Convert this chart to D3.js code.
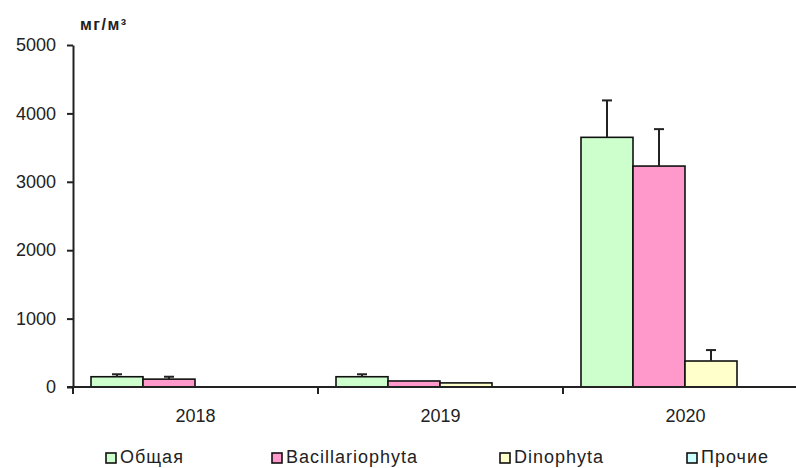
<!DOCTYPE html>
<html>
<head>
<meta charset="utf-8">
<script src="https://cdn.jsdelivr.net/npm/d3@7"></script>
<style>
  body { margin: 0; background: #fff; }
  svg { display: block; font-family: "Liberation Sans", Arial, sans-serif; }
</style>
</head>
<body>
<svg id="chart" width="796" height="468"></svg>
<script>
const years = ["2018", "2019", "2020"];
const seriesNames = ["Общая", "Bacillariophyta", "Dinophyta", "Прочие"];
const seriesColors = ["#ccffcc", "#ff99cc", "#ffffcc", "#ccffff"];

// mean values, mg/m3
const totalVals = [150, 150, 3650];
const bacilVals = [115, 88, 3230];
const dinoVals = [0, 60, 380];
const otherVals = [0, 0, 0];

// upper error (absolute top of error bar), 0 = none
const totalErr = [186, 186, 4190];
const bacilErr = [150, 0, 3770];
const dinoErr = [0, 0, 540];
const otherErr = [0, 0, 0];

const yTicks = [0, 1000, 2000, 3000, 4000, 5000];

const values = [totalVals, bacilVals, dinoVals, otherVals];
const errors = [totalErr, bacilErr, dinoErr, otherErr];

const svg = d3.select("#chart");

const x = d3.scaleBand().domain(years).range([73, 808]);
const xs = d3.scaleBand().domain(seriesNames).range([18, x.bandwidth() - 19]);
const y = d3.scaleLinear().domain([0, 5000]).range([387, 45]);

const rows = [];
seriesNames.forEach((s, si) => {
  years.forEach((yr, yi) => {
    rows.push({ s, si, yr, v: values[si][yi], e: errors[si][yi] });
  });
});

// bars
svg.append("g")
  .selectAll("rect")
  .data(rows.filter(d => d.v > 0))
  .enter()
  .append("rect")
    .attr("x", d => x(d.yr) + xs(d.s))
    .attr("y", d => y(d.v))
    .attr("width", xs.bandwidth())
    .attr("height", d => y(0) - y(d.v))
    .attr("fill", d => seriesColors[d.si])
    .attr("stroke", "#111")
    .attr("stroke-width", 1.6);

// error bars
const errG = svg.append("g")
  .attr("stroke", "#222")
  .attr("stroke-width", 2);
rows.filter(d => d.e > 0).forEach(d => {
  const cx = x(d.yr) + xs(d.s) + xs.bandwidth() / 2;
  errG.append("line")
    .attr("x1", cx).attr("x2", cx)
    .attr("y1", y(d.v)).attr("y2", y(d.e));
  errG.append("line")
    .attr("x1", cx - 5).attr("x2", cx + 5)
    .attr("y1", y(d.e)).attr("y2", y(d.e));
});

// y axis
const yAxis = svg.append("g")
  .attr("transform", "translate(73,0)")
  .call(d3.axisLeft(y).tickValues(yTicks).tickFormat(d3.format("d"))
    .tickSize(6).tickPadding(11).tickSizeOuter(0));
yAxis.select(".domain").attr("stroke", "#222").attr("stroke-width", 2);
yAxis.selectAll(".tick line").attr("stroke", "#222").attr("stroke-width", 2);
yAxis.selectAll(".tick text")
  .attr("font-size", 18)
  .attr("fill", "#222")
  .attr("font-family", "Liberation Sans, Arial, sans-serif");

// x axis
const xAxis = svg.append("g")
  .attr("transform", "translate(0,387)")
  .call(d3.axisBottom(x).tickSize(0).tickPadding(22).tickSizeOuter(0));
xAxis.select(".domain").attr("stroke", "#222").attr("stroke-width", 2)
  .attr("d", "M67,0H796");
xAxis.selectAll(".tick text")
  .attr("font-size", 18)
  .attr("fill", "#222")
  .attr("font-family", "Liberation Sans, Arial, sans-serif");

// category separators
svg.append("g")
  .selectAll("line")
  .data(years)
  .enter()
  .append("line")
    .attr("x1", d => x(d)).attr("x2", d => x(d))
    .attr("y1", 387).attr("y2", 394)
    .attr("stroke", "#222")
    .attr("stroke-width", 2);

// unit label
svg.append("text")
  .attr("x", 80)
  .attr("y", 30)
  .attr("font-size", 16)
  .attr("font-weight", "bold")
  .attr("letter-spacing", 1.5)
  .attr("fill", "#222")
  .text("мг/м³");

// legend
const legendX = [106, 272, 500, 687];
const lg = svg.append("g")
  .selectAll("g")
  .data(seriesNames)
  .enter()
  .append("g")
    .attr("transform", (d, i) => `translate(${legendX[i]},0)`);
lg.append("rect")
  .attr("x", 0).attr("y", 453)
  .attr("width", 10).attr("height", 10)
  .attr("fill", (d, i) => seriesColors[i])
  .attr("stroke", "#111")
  .attr("stroke-width", 1.6);
lg.append("text")
  .attr("x", 14)
  .attr("y", 463)
  .attr("font-size", 18)
  .attr("letter-spacing", 1)
  .attr("fill", "#222")
  .text(d => d);
</script>
</body>
</html>
